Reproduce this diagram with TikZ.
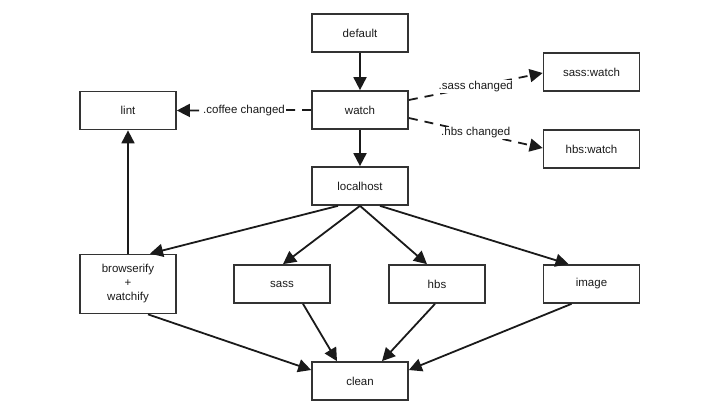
\documentclass[tikz,border=0pt]{standalone}
\usepackage{fontspec}
\setmainfont{Liberation Sans}
\usetikzlibrary{arrows.meta}
\definecolor{ink}{HTML}{1A1A1A}
\definecolor{boxline}{HTML}{333333}
\tikzset{
  box/.style={draw=boxline, line width=1.7pt, minimum width=96pt, minimum height=38pt, inner sep=2pt,
    font=\fontsize{11.5}{14}\selectfont, text=ink, align=center},
  flow/.style={draw=ink, line width=1.8pt, -{Triangle[length=13pt,width=13pt]}},
  trig/.style={flow, dash pattern=on 9pt off 7pt},
  lab/.style={fill=white, inner sep=1pt, font=\fontsize{11.5}{13}\selectfont, text=ink}
}
\begin{document}
\begin{tikzpicture}[x=1pt,y=-1pt]
\useasboundingbox (0,0) rectangle (720,410);
\node[box] (default) at (360,33) {default};
\node[box] (watch) at (360,110) {watch};
\node[box] (localhost) at (360,186) {localhost};
\node[box] (lint) at (128,110.5) {lint};
\node[box] (sasswatch) at (591.5,72) {sass:watch};
\node[box] (hbswatch) at (591.5,149) {hbs:watch};
\node[box, minimum height=59pt] (browserify) at (128,284) {browserify\\+\\watchify};
\node[box] (sass) at (282,284) {sass};
\node[box] (hbs) at (437,284) {hbs};
\node[box] (image) at (591.5,284) {image};
\node[box] (clean) at (360,381) {clean};

\draw[flow] (default.south) -- (watch.north);
\draw[flow] (watch.south) -- (localhost.north);
\draw[flow] (browserify.north) -- (lint.south);
\draw[flow] ([xshift=-22pt]localhost.south) -- ([xshift=22pt]browserify.north);
\draw[flow] (localhost.south) -- ([xshift=1pt]sass.north);
\draw[flow] (localhost.south) -- ([xshift=-10pt]hbs.north);
\draw[flow] ([xshift=20pt]localhost.south) -- ([xshift=-23pt]image.north);
\draw[flow] ([xshift=20pt]browserify.south) -- ([yshift=11pt]clean.west);
\draw[flow] ([xshift=21pt]sass.south) -- ([xshift=-23pt]clean.north);
\draw[flow] ([xshift=-2pt]hbs.south) -- ([xshift=22pt]clean.north);
\draw[flow] ([xshift=-20pt]image.south) -- ([yshift=11pt]clean.east);

\draw[trig] (watch.west) -- node[lab] {.coffee changed} (lint.east);
\draw[trig] ([yshift=10pt]watch.east) -- node[lab, pos=0.5] {.sass changed} ([yshift=-1pt]sasswatch.west);
\draw[trig] ([yshift=-8pt]watch.east) -- node[lab, pos=0.5] {.hbs changed} ([yshift=1pt]hbswatch.west);
\end{tikzpicture}
\end{document}
